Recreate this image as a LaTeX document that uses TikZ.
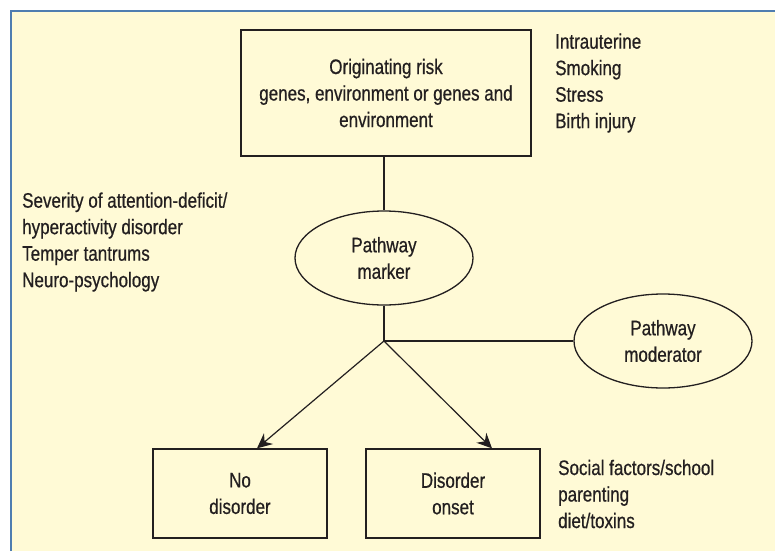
\documentclass[tikz,border=0pt]{standalone}
\usepackage{fontspec}
\setmainfont[FakeStretch=0.81,FakeBold=0.6]{Liberation Sans}
\usetikzlibrary{shapes.geometric,arrows.meta}
\definecolor{paper}{RGB}{255,250,214}
\definecolor{frameblue}{RGB}{79,125,176}
\definecolor{ink}{RGB}{35,31,32}
\tikzset{
  base/.style={draw=ink, line width=1.3pt, text=ink, align=center, inner sep=0pt,
    font=\fontsize{21}{26.5}\selectfont},
  riskbox/.style={base, rectangle, minimum width=290pt, minimum height=126pt},
  outbox/.style={base, rectangle, minimum width=174pt, minimum height=89pt},
  pathoval/.style={base, ellipse, minimum width=178pt, minimum height=94pt},
  factors/.style={text=ink, align=left, inner sep=0pt, anchor=west,
    font=\fontsize{21}{26.5}\selectfont},
  link/.style={draw=ink, line width=1.2pt},
  flow/.style={link, -{Stealth[length=15pt,width=14pt,inset=5pt]}}
}
\begin{document}
\begin{tikzpicture}[x=1pt,y=-1pt]
		\useasboundingbox (0,0) rectangle (775,551);
		
		% Background and frame
		\fill[paper] (11,11) rectangle (775,551);
		\draw[frameblue, line width=2pt] (11,551) -- (11,11) -- (775,11);
		
		% Nodes
		\node[riskbox] (risk) at (386,93) {Originating risk\\genes, environment or genes and\\environment};
		\node[pathoval] (marker) at (384,258) {Pathway\\marker};
		\node[pathoval] (moderator) at (663,341) {Pathway\\moderator};
		\node[outbox] (none) at (240,493.5) {No\\disorder};
		\node[outbox] (onset) at (453,493.5) {Disorder\\onset};
		\coordinate (split) at (marker.south |- moderator.west);
		
		% Factor lists
		\node[factors] (prenatal) at (555,83) {Intrauterine\\Smoking\\Stress\\Birth injury};
		\node[factors] (severity) at (22,242) {Severity of attention-deficit/\\hyperactivity disorder\\Temper tantrums\\Neuro-psychology};
		\node[factors] (social) at (558,494) {Social factors/school\\parenting\\diet/toxins};
		
		% Connectors
		\draw[link] (risk.south -| marker.north) -- (marker.north);
		\draw[link] (marker.south) -- (split);
		\draw[link] (split) -- (moderator.west);
		\draw[flow] (split) -- ([xshift=17pt]none.north);
		\draw[flow] (split) -- ([xshift=39pt]onset.north);
		
	\end{tikzpicture}
\end{document}
